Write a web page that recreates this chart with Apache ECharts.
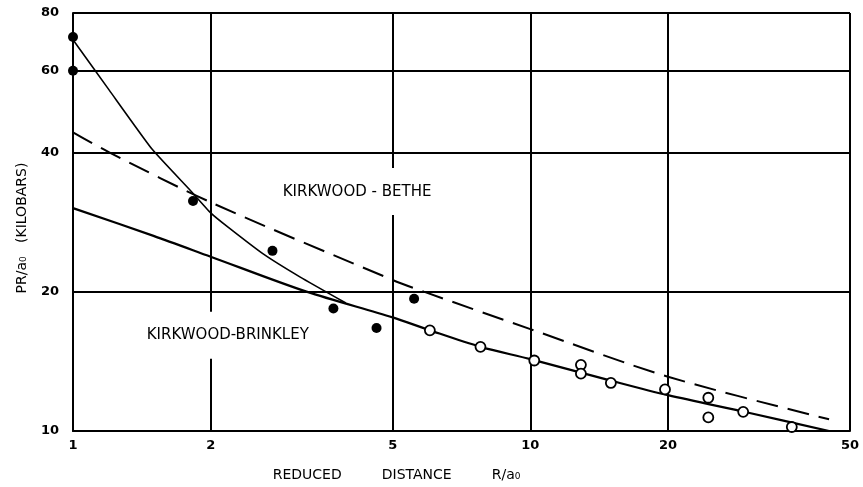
<!DOCTYPE html>
<html>
<head>
<meta charset="utf-8">
<script src="https://cdn.jsdelivr.net/npm/echarts@6/dist/echarts.min.js"></script>
<style>
html,body{margin:0;padding:0;background:#fff;}
#chart{width:863px;height:487px;}
</style>
</head>
<body>
<div id="chart"></div>
<script>
// Tick labels
var xTicks = [1, 2, 5, 10, 20, 50];
var yTicks = [10, 20, 40, 60, 80];

// Experimental data: filled circles
var filledX = [1, 1, 1.83, 2.73, 3.71, 4.61, 5.57];
var filledY = [71, 60, 31.4, 24.5, 18.4, 16.7, 19.3];

// Experimental data: open circles
var openX = [6.03, 7.78, 10.2, 12.9, 12.9, 15.0, 19.7, 24.5, 24.5, 29.2, 37.3];
var openY = [16.5, 15.2, 14.2, 13.9, 13.3, 12.7, 12.3, 11.8, 10.7, 11.0, 10.2];

// Kirkwood-Bethe (dashed)
var betheX = [1, 1.2, 2, 5, 5.85, 10, 20, 45];
var betheY = [44.2, 40, 31.2, 21.2, 20, 16.6, 13.1, 10.6];

// Kirkwood-Brinkley (solid)
var brinkleyX = [1, 1.5, 2, 3.24, 5, 6.03, 7.78, 10, 15, 20, 30, 45];
var brinkleyY = [30.3, 26.4, 23.8, 20, 17.6, 16.5, 15.2, 14.3, 12.85, 11.95, 10.95, 10.0];

// Fitted curve through filled points (thin solid)
var steepX = [1, 1.2, 1.49, 1.81, 2, 2.19, 2.61, 3.14, 3.95];
var steepY = [70, 54.5, 40.6, 33.0, 29.6, 27.5, 24.1, 21.5, 18.9];

// Curve labels
var labelTexts = ['KIRKWOOD - BETHE', 'KIRKWOOD-BRINKLEY'];

function zip(a, b) { return a.map(function (v, i) { return [v, b[i]]; }); }

var chart = echarts.init(document.getElementById('chart'));
var font = 'DejaVu Sans';
chart.setOption({
  animation: false,
  backgroundColor: '#fff',
  grid: { left: 73, right: 13, top: 13, bottom: 54 },
  xAxis: {
    type: 'log', logBase: 10, min: 1, max: 50,
    name: 'REDUCED         DISTANCE         R/a\u2080',
    nameLocation: 'middle', nameGap: 37,
    nameTextStyle: { fontFamily: font, fontSize: 14, color: '#000', padding: [0, 130, 0, 0] },
    axisLine: { show: true, onZero: false, lineStyle: { color: '#000', width: 2 } },
    axisTick: { show: false, customValues: xTicks },
    axisLabel: { customValues: xTicks, fontFamily: font, fontSize: 13, fontWeight: 'bold', color: '#000', margin: 8 },
    splitLine: { show: true, lineStyle: { color: '#000', width: 2 } }
  },
  yAxis: {
    type: 'log', logBase: 10, min: 10, max: 80,
    name: 'PR/a\u2080   (KILOBARS)',
    nameLocation: 'middle', nameGap: 44,
    nameTextStyle: { fontFamily: font, fontSize: 14, color: '#000', padding: [0, 12, 0, 0] },
    axisLine: { show: true, onZero: false, lineStyle: { color: '#000', width: 2 } },
    axisTick: { show: false, customValues: yTicks },
    axisLabel: { customValues: yTicks, fontFamily: font, fontSize: 13, fontWeight: 'bold', color: '#000', margin: 14 },
    splitLine: { show: true, lineStyle: { color: '#000', width: 2 } }
  },
  series: [
    {
      name: 'Kirkwood-Bethe', type: 'line', data: zip(betheX, betheY),
      symbol: 'none', smooth: 0.3, z: 3,
      lineStyle: { color: '#000', width: 2, type: [22, 10] }
    },
    {
      name: 'Kirkwood-Brinkley', type: 'line', data: zip(brinkleyX, brinkleyY),
      symbol: 'none', smooth: 0.3, z: 3,
      lineStyle: { color: '#000', width: 2.2 }
    },
    {
      name: 'Fit', type: 'line', data: zip(steepX, steepY),
      symbol: 'none', smooth: 0.15, z: 3,
      lineStyle: { color: '#000', width: 1.6 }
    },
    {
      name: 'Filled', type: 'scatter', data: zip(filledX, filledY),
      symbol: 'circle', symbolSize: 10, z: 5,
      itemStyle: { color: '#000', opacity: 1 }
    },
    {
      name: 'Open', type: 'scatter', data: zip(openX, openY),
      symbol: 'circle', symbolSize: 10, z: 5,
      itemStyle: { color: '#fff', borderColor: '#000', borderWidth: 1.8, opacity: 1 }
    },
    {
      name: 'Labels', type: 'scatter', symbolSize: 0, z: 4,
      data: [
        { value: [4.18, 32.9], name: labelTexts[0] },
        { value: [2.18, 16.1], name: labelTexts[1] }
      ],
      itemStyle: { opacity: 1 },
      label: {
        show: true, position: 'inside', formatter: '{b}',
        fontFamily: font, fontSize: 15, color: '#000',
        backgroundColor: '#fff', padding: [16, 6]
      }
    }
  ]
});
</script>
</body>
</html>
